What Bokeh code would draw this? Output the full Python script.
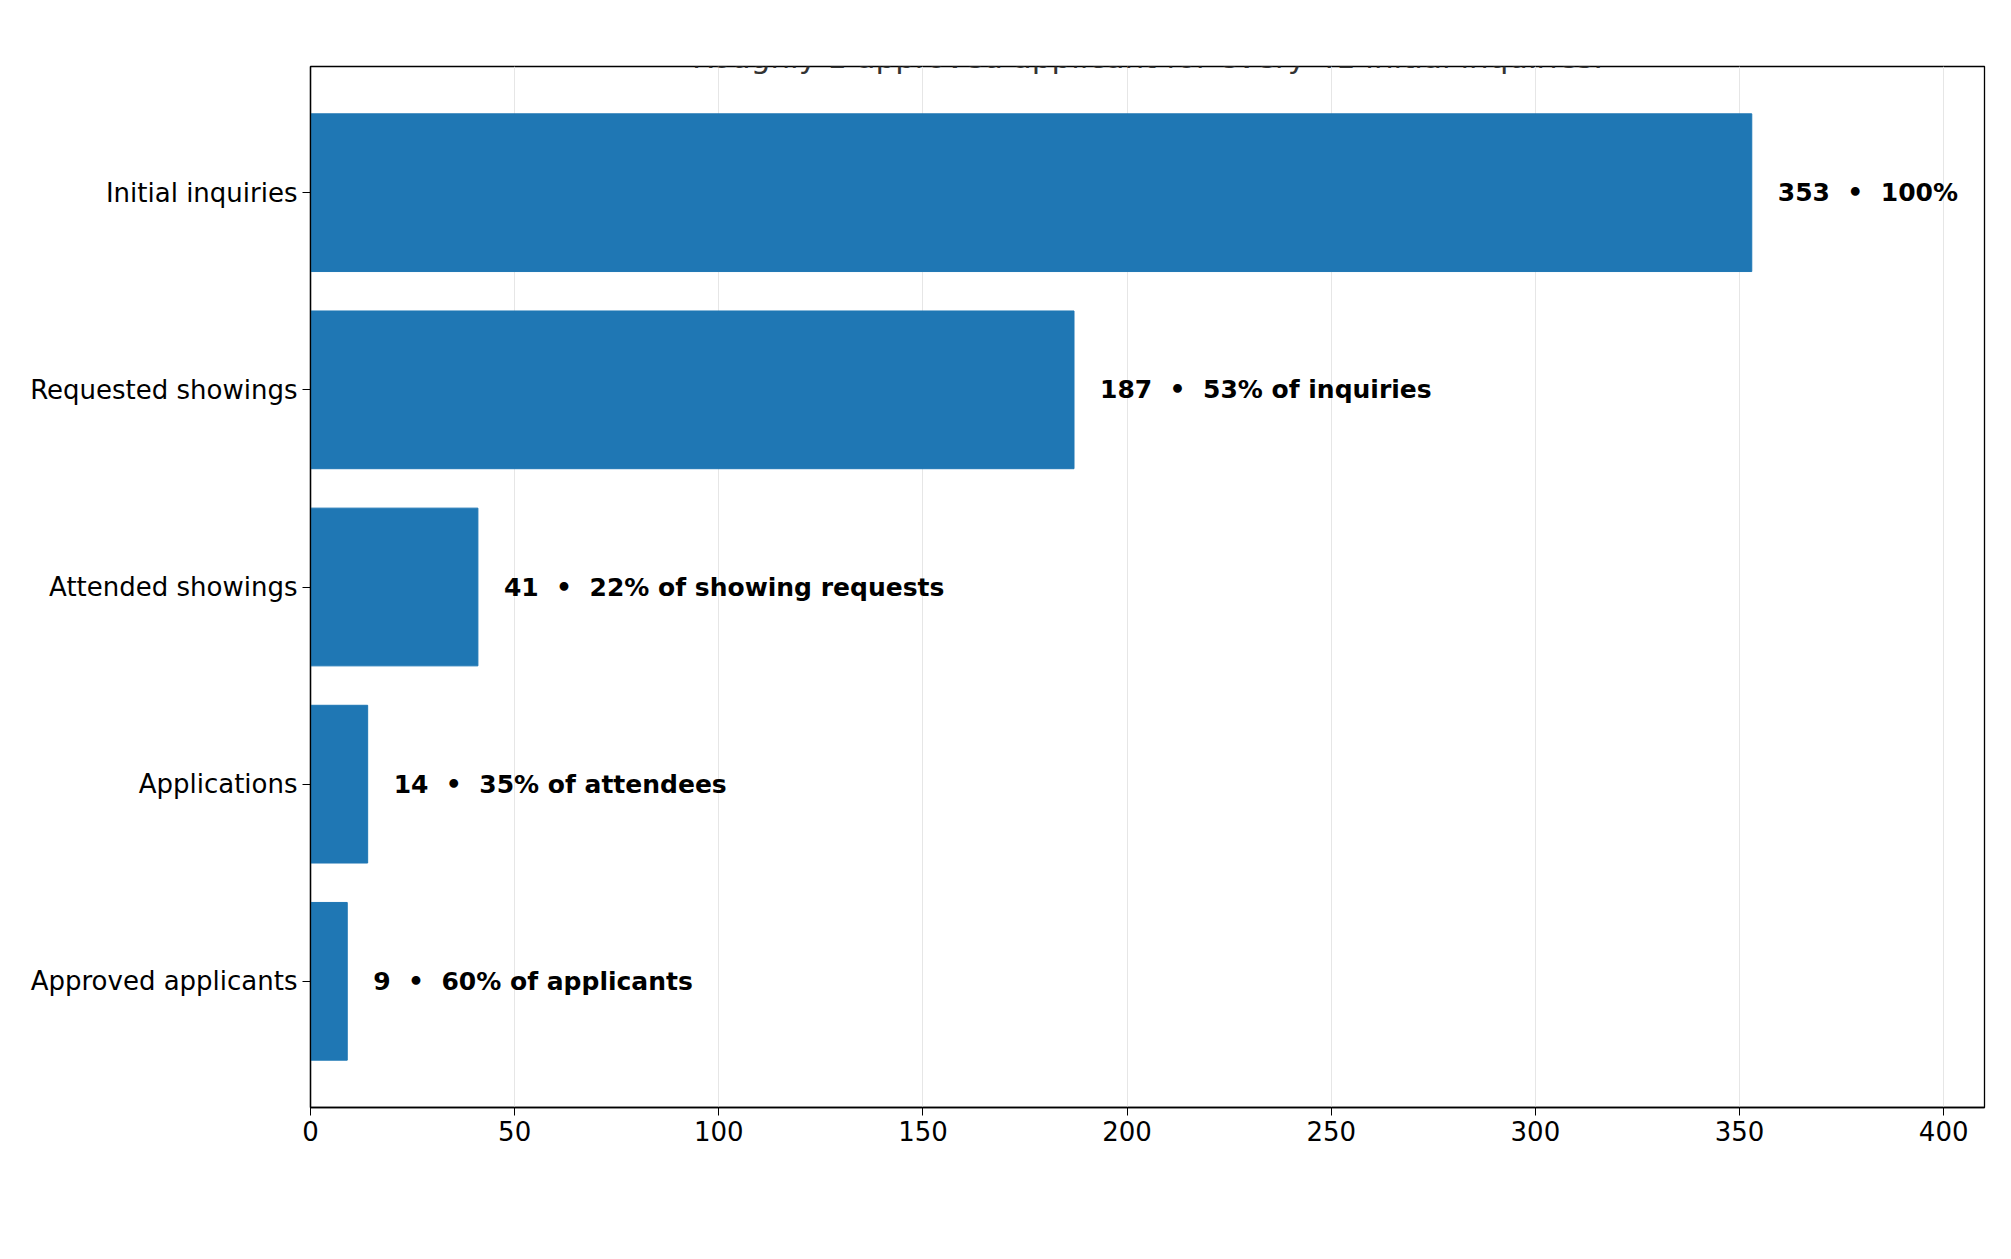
from bokeh.plotting import figure
from bokeh.models import Label, ColumnDataSource, FixedTicker, Range1d
from bokeh.embed import file_html
from bokeh.resources import INLINE
from bokeh.core.properties import value

NB = "\u00a0"
stages = ["Initial inquiries", "Requested showings", "Attended showings", "Applications", "Approved applicants"]
counts = [353, 187, 41, 14, 9]
notes = ["100%", "53% of inquiries", "22% of showing requests", "35% of attendees", "60% of applicants"]
labels = [f"{c}{NB}{NB}•{NB}{NB}{n}" for c, n in zip(counts, notes)]
xticks = [0, 50, 100, 150, 200, 250, 300, 350, 400]

F = "DejaVu Sans"
W, H = 1995, 1243
ypos = list(range(len(stages)))
src = ColumnDataSource(dict(y=ypos, c=counts, lab=labels))

p = figure(width=W, height=H, output_backend="svg", toolbar_location=None,
           x_range=Range1d(0, 410), y_range=Range1d(4.64, -0.64),
           min_border_left=310, min_border_right=11, min_border_top=66, min_border_bottom=136)
p.hbar(y="y", right="c", left=0, height=0.8, source=src, color="#1f77b4")
p.text(x="c", y="y", text="lab", source=src, x_offset=26, text_baseline="middle",
       text_font=value(F), text_font_size="25px", text_font_style="bold", text_color="black")

p.xaxis.ticker = FixedTicker(ticks=xticks)
p.yaxis.ticker = FixedTicker(ticks=ypos)
p.yaxis.major_label_overrides = {i: s for i, s in enumerate(stages)}
for ax in (p.xaxis[0], p.yaxis[0]):
    ax.major_label_text_font = F
    ax.major_label_text_font_size = "26px"
    ax.major_label_text_color = "black"
    ax.axis_line_color = "black"
    ax.major_tick_line_color = "black"
    ax.major_tick_out = 8
    ax.major_tick_in = 0
    ax.minor_tick_line_color = None
    ax.axis_line_width = 1.3
p.ygrid.grid_line_color = None
p.xgrid.grid_line_color = "#e6e6e6"
p.outline_line_color = "black"
p.outline_line_alpha = 1
p.outline_line_width = 1.3

cx = 837
def lab(y, t, size, color):
    p.add_layout(Label(x=cx, y=y, x_units="screen", y_units="screen", text=t, text_align="center",
                       text_baseline="middle", text_font=F, text_font_size=size, text_color=color))
lab(1073, "The Reality Behind 353 Rental Leads", "50px", "black")
lab(1051, "Roughly 1 approved applicant for every 41 initial inquiries.", "31px", "#333333")
lab(-67, "Approximate number of prospects", "32px", "black")
lab(-114, "Source: Revolve Real Estate internal rental lead data, July 13–17, 2026. Figures are approximate.", "21px", "#555555")

open("out.html", "w").write(file_html(p, INLINE))
